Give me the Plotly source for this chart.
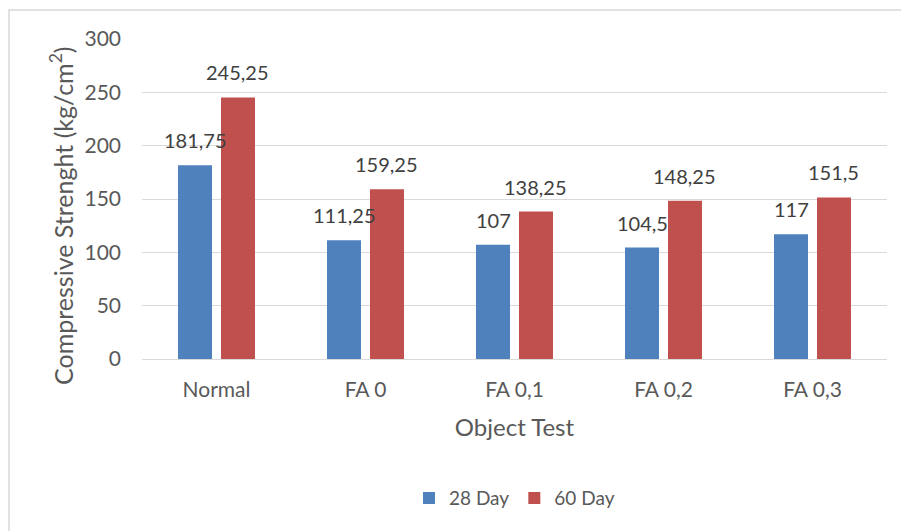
import plotly.graph_objects as go

# Compressive strength results per test object
categories = ["Normal", "FA 0", "FA 0,1", "FA 0,2", "FA 0,3"]
day28 = [181.75, 111.25, 107, 104.5, 117]
day60 = [245.25, 159.25, 138.25, 148.25, 151.5]
series_names = ["28 Day", "60 Day"]
y_ticks = [0, 50, 100, 150, 200, 250, 300]
y_title = "Compressive Strenght (kg/cm<sup>2</sup>)"
x_title = "Object Test"

BLUE = "#4F81BD"
RED = "#C0504D"
TEXT = "#595959"
GRID = "#D9D9D9"
FONT = "Lato, Open Sans, sans-serif"

W, H = 901, 531
ML, MR, MT, MB = 142, 14, 39, 172
PW, PH = W - ML - MR, H - MT - MB
BARGAP, GROUPGAP = 0.423, 0.209


def fmt(v):
    # decimal comma, as in the source workbook
    return f"{v:g}".replace(".", ",")


fig = go.Figure()
fig.add_trace(go.Bar(name=series_names[0], x=categories, y=day28,
                     marker=dict(color=BLUE, line=dict(width=0))))
fig.add_trace(go.Bar(name=series_names[1], x=categories, y=day60,
                     marker=dict(color=RED, line=dict(width=0))))

# value labels above each bar
slot = PW / len(categories)
half = slot * (1 - BARGAP) / 4
for vals, sh in ((day28, -half), (day60, half)):
    for c, v in zip(categories, vals):
        fig.add_annotation(x=c, y=v, text=fmt(v), showarrow=False,
                           xref="x", yref="y", yanchor="bottom",
                           xshift=sh, yshift=11,
                           font=dict(family=FONT, size=20, color="#404040"))

# vertical axis title, set slightly below the plot's mid-height
fig.add_annotation(text=y_title, textangle=-90, showarrow=False,
                   xref="paper", yref="paper",
                   x=(61 - ML) / PW, y=1 - (216 - MT) / PH,
                   xanchor="center", yanchor="middle",
                   font=dict(family=FONT, size=25, color=TEXT))

# light chart-area frame
fig.add_shape(type="rect", xref="paper", yref="paper",
              x0=(9 - ML) / PW, x1=1 + (MR + 5) / PW,
              y0=-(MB + 5) / PH, y1=1 + (MT - 10) / PH,
              line=dict(color=GRID, width=1.5), fillcolor="rgba(0,0,0,0)",
              layer="below")

fig.update_layout(
    width=W, height=H,
    margin=dict(l=ML, r=MR, t=MT, b=MB),
    paper_bgcolor="white", plot_bgcolor="white",
    barmode="group", bargap=BARGAP, bargroupgap=GROUPGAP,
    font=dict(family=FONT, size=18, color=TEXT),
    showlegend=True,
    legend=dict(orientation="h", x=0.5, xanchor="center",
                y=-0.435, yanchor="middle",
                font=dict(size=19, color=TEXT),
                itemwidth=30, traceorder="normal"),
    xaxis=dict(showgrid=False, showline=True, linecolor=GRID, linewidth=1,
               ticks="", ticklabelstandoff=12,
               tickfont=dict(size=21, color=TEXT),
               title=dict(text=x_title, standoff=18,
                          font=dict(size=24, color=TEXT))),
    yaxis=dict(range=[0, 300], tickvals=y_ticks, showgrid=True,
               gridcolor=GRID, gridwidth=1, zeroline=False, showline=False,
               ticks="", ticklabelstandoff=20,
               tickfont=dict(size=21, color=TEXT)),
)

fig.write_html("out.html")
